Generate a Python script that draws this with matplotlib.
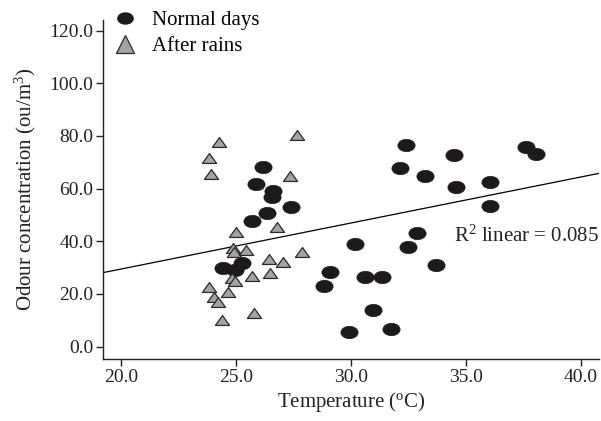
import matplotlib

matplotlib.use("Agg")
import matplotlib.pyplot as plt
import numpy as np
from matplotlib.lines import Line2D
from matplotlib.path import Path
from matplotlib.transforms import Affine2D

plt.rcParams["font.family"] = ["Liberation Serif", "DejaVu Serif"]

# Normal days: temperature (oC) and odour concentration (ou/m3)
normal_temp = [24.46, 24.97, 25.26, 26.20, 25.88, 26.63, 26.57, 27.39, 26.37, 25.72,
               29.10, 28.85, 32.40, 34.49, 37.62, 38.06, 32.14, 33.23, 34.57, 36.06,
               36.06, 32.90, 30.19, 32.48, 33.71, 30.62, 31.35, 30.96, 29.94, 31.74]
normal_odour = [29.7, 29.1, 31.9, 68.1, 61.6, 59.2, 56.9, 53.1, 50.6, 47.7,
                28.2, 22.9, 76.5, 72.8, 75.9, 73.1, 67.7, 64.9, 60.5, 62.4,
                53.5, 43.0, 38.9, 37.9, 31.0, 26.6, 26.6, 13.9, 5.7, 6.7]

# After rains
rain_temp = [24.29, 27.68, 23.85, 23.91, 27.36, 25.01, 26.78, 24.87, 24.94, 25.43,
             27.87, 26.45, 27.04, 26.49, 25.72, 24.85, 24.97, 23.84, 24.65, 24.07,
             24.22, 25.81, 24.39]
rain_odour = [77.8, 80.3, 71.5, 65.4, 64.8, 43.4, 45.3, 37.3, 35.8, 36.7,
              35.8, 33.3, 32.0, 28.1, 26.9, 26.0, 24.9, 22.5, 20.6, 19.0,
              16.9, 12.9, 10.1]

# linear fit
fit_intercept = -5.49
fit_slope = 1.747
r2_label = "0.085"

x_ticks = [20.0, 25.0, 30.0, 35.0, 40.0]
y_ticks = [0.0, 20.0, 40.0, 60.0, 80.0, 100.0, 120.0]

# flattened marker shapes as in the original
ellipse = Path.unit_circle().transformed(Affine2D().scale(1.0, 0.72))
flat_tri = Path([(-1, -0.7), (1, -0.7), (0, 0.7), (-1, -0.7)],
                [Path.MOVETO, Path.LINETO, Path.LINETO, Path.CLOSEPOLY])

fig = plt.figure(figsize=(6.01, 4.21), dpi=100)
ax = fig.add_axes([0.1714, 0.1473, 0.8253, 0.8052])

xlim = (19.23, 40.8)
ax.set_xlim(*xlim)
ax.set_ylim(-4.67, 124.0)

xs = np.array(xlim)
ax.plot(xs, fit_intercept + fit_slope * xs, color="black", lw=0.9, zorder=1)

ax.plot(normal_temp, normal_odour, linestyle="none", marker=ellipse, markersize=12.4,
        markerfacecolor="#1c1a1a", markeredgecolor="#1c1a1a", markeredgewidth=0.5, zorder=3)
ax.plot(rain_temp, rain_odour, linestyle="none", marker=flat_tri, markersize=10.2,
        markerfacecolor="#a3a3a3", markeredgecolor="#2a2a2a", markeredgewidth=0.9, zorder=3)

ax.text(34.5, 39.8, r"R$\mathregular{^2}$ linear = " + r2_label, fontsize=15,
        ha="left", va="baseline", color="#222222")

for side in ("top", "right"):
    ax.spines[side].set_visible(False)
for side in ("left", "bottom"):
    ax.spines[side].set_linewidth(1.0)
    ax.spines[side].set_color("#222222")

ax.set_xticks(x_ticks, [f"{v:.1f}" for v in x_ticks])
ax.set_yticks(y_ticks, [f"{v:.1f}" for v in y_ticks])
ax.tick_params(axis="both", labelsize=14, length=5, width=1.0, color="#222222",
               labelcolor="#222222", pad=2)

ax.set_xlabel(r"Temperature ($\mathregular{^o}$C)", fontsize=15, color="#222222", labelpad=3)
ax.set_ylabel(r"Odour concentration (ou/m$\mathregular{^3}$)", fontsize=15,
              color="#222222", labelpad=8)

handles = [
    Line2D([], [], linestyle="none", marker=ellipse, markersize=11,
           markerfacecolor="#1c1a1a", markeredgecolor="#1c1a1a"),
    Line2D([], [], linestyle="none", marker="^", markersize=13,
           markerfacecolor="#a3a3a3", markeredgecolor="#2a2a2a", markeredgewidth=0.9),
]
ax.legend(handles, ["Normal days", "After rains"], loc="upper left",
          bbox_to_anchor=(0.019, 1.028), frameon=False, fontsize=15,
          borderpad=0, handlelength=1.2, handletextpad=0.7, labelspacing=0.3,
          borderaxespad=0)

fig.savefig("out.png", dpi=100)
